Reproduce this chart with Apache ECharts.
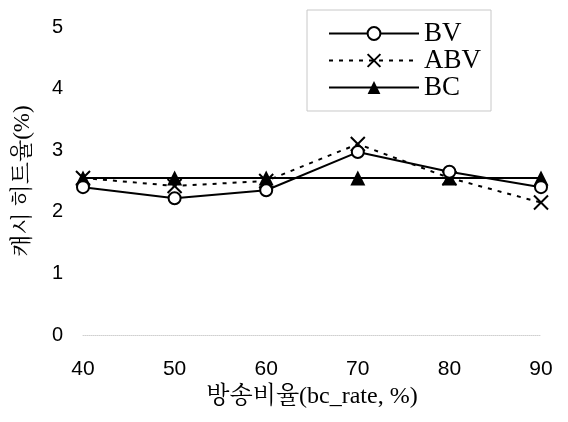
<!DOCTYPE html>
<html><head><meta charset="utf-8">
<script src="https://cdn.jsdelivr.net/npm/echarts@6/dist/echarts.min.js"></script>
<style>html,body{margin:0;padding:0;background:#fff}#c{width:568px;height:422px}</style>
</head><body><div id="c"></div>
<script>
const categories = ['40','50','60','70','80','90'];
const bv  = [2.4, 2.22, 2.35, 2.97, 2.65, 2.4];
const abv = [2.55, 2.42, 2.5, 3.1, 2.55, 2.15];
const bc  = [2.55, 2.55, 2.55, 2.55, 2.55, 2.55];
const yTicks = [0, 1, 2, 3, 4, 5];
const xName = '방송비율(bc_rate, %)';
const yName = '캐시 히트율(%)';

const chart = echarts.init(document.getElementById('c'));
const serif = '"Liberation Serif", "Noto Serif CJK KR", "DejaVu Serif", serif';
const sans = '"Liberation Sans", Arial, sans-serif';
chart.setOption({
  animation: false,
  backgroundColor: '#fff',
  grid: {left: 83, right: 27, top: 27, bottom: 87},
  legend: {
    left: 307, top: 10, orient: 'vertical', itemGap: 0,
    itemWidth: 90, itemHeight: 16,
    textStyle: {fontFamily: serif, fontSize: 27, lineHeight: 24, color: '#000'},
    borderColor: '#c8c8c8', borderWidth: 1, padding: [10, 10, 10, 21],
    data: ['BV', 'ABV', 'BC']
  },
  xAxis: {
    type: 'category', data: categories, boundaryGap: false,
    name: xName, nameLocation: 'middle', nameGap: 50,
    nameTextStyle: {fontFamily: serif, fontSize: 24, color: '#000'},
    axisLine: {show: true, lineStyle: {color: '#d0d0d0', type: 'dotted', width: 1}},
    axisTick: {show: false},
    axisLabel: {fontFamily: sans, fontSize: 21, color: '#000', margin: 24},
    splitLine: {show: false}
  },
  yAxis: {
    type: 'value', min: 0, max: 5, interval: 1,
    name: yName, nameLocation: 'middle', nameGap: 49, nameRotate: 90,
    nameTextStyle: {fontFamily: serif, fontSize: 23, color: '#000'},
    axisLine: {show: false},
    axisTick: {show: false},
    axisLabel: {fontFamily: sans, fontSize: 20, color: '#000', margin: 20,
      formatter: v => yTicks.includes(v) ? String(v) : ''},
    splitLine: {show: false}
  },
  series: [
    {name: 'BV', type: 'line', data: bv, symbol: 'emptyCircle', symbolSize: 12,
     lineStyle: {color: '#000', width: 2}, itemStyle: {color: '#000', borderWidth: 2}, z: 3},
    {name: 'ABV', type: 'line', data: abv, symbol: 'path://M0,0L10,10M10,0L0,10', symbolSize: 14,
     lineStyle: {color: '#000', width: 2, type: [4, 6]},
     itemStyle: {color: 'none', borderColor: '#000', borderWidth: 2}, z: 2},
    {name: 'BC', type: 'line', data: bc, symbol: 'triangle', symbolSize: 15,
     lineStyle: {color: '#000', width: 2}, itemStyle: {color: '#000'}, z: 1}
  ]
});
</script></body></html>
